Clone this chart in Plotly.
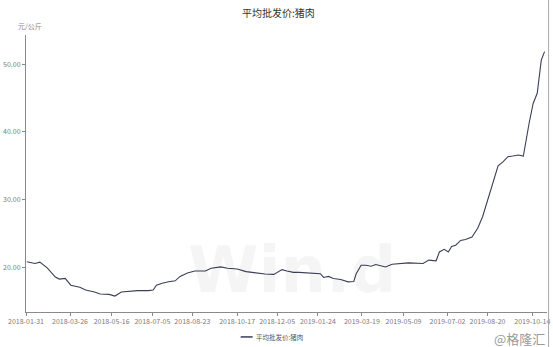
import plotly.graph_objects as go

# ---- data ----
dates = [
    "2018-02-01", "2018-02-11", "2018-02-17", "2018-02-26", "2018-03-08", "2018-03-13", "2018-03-20",
    "2018-03-27", "2018-04-07", "2018-04-14", "2018-04-25", "2018-05-02", "2018-05-13",
    "2018-05-20", "2018-05-28", "2018-06-05", "2018-06-17", "2018-06-30",
    "2018-07-06", "2018-07-10", "2018-07-17", "2018-07-25", "2018-08-02", "2018-08-08", "2018-08-17",
    "2018-08-26", "2018-09-08", "2018-09-15", "2018-09-27", "2018-10-05",
    "2018-10-17", "2018-10-28", "2018-11-08", "2018-11-20", "2018-12-01",
    "2018-12-07", "2018-12-11", "2018-12-17", "2018-12-25", "2019-01-01", "2019-01-13",
    "2019-01-27", "2019-01-31", "2019-02-06", "2019-02-12", "2019-02-21", "2019-03-02", "2019-03-09",
    "2019-03-12", "2019-03-18",
    "2019-03-24", "2019-03-30", "2019-04-05", "2019-04-17", "2019-04-25",
    "2019-05-15", "2019-06-02", "2019-06-09", "2019-06-18", "2019-06-22", "2019-06-28",
    "2019-07-03", "2019-07-07", "2019-07-12", "2019-07-18", "2019-07-24", "2019-08-01", "2019-08-04",
    "2019-08-08", "2019-08-14",
    "2019-08-20", "2019-08-26", "2019-08-31", "2019-09-02", "2019-09-08", "2019-09-14", "2019-09-20",
    "2019-09-27", "2019-10-03", "2019-10-06", "2019-10-10",
    "2019-10-15", "2019-10-20", "2019-10-23", "2019-10-25", "2019-10-29",
]
prices = [
    20.85, 20.6, 20.8, 19.95, 18.6, 18.3, 18.4,
    17.4, 17.1, 16.7, 16.4, 16.1, 16.05,
    15.8, 16.4, 16.5, 16.6, 16.6,
    16.7, 17.4, 17.7, 17.9, 18.05, 18.7, 19.2,
    19.5, 19.5, 19.9, 20.1, 19.9,
    19.8, 19.4, 19.2, 19.05, 19.0,
    19.4, 19.7, 19.5, 19.3, 19.3, 19.2,
    19.1, 18.55, 18.7, 18.4, 18.25, 17.9, 17.95,
    19.1, 20.35,
    20.35, 20.2, 20.45, 20.1, 20.5,
    20.7, 20.6, 21.1, 21.0, 22.3, 22.7,
    22.3, 23.1, 23.3, 24.0, 24.15, 24.5, 25.0,
    25.8, 27.5,
    29.95, 32.4, 34.1, 35.0, 35.6, 36.35, 36.45,
    36.6, 36.45, 38.8, 41.25,
    44.2, 45.7, 48.65, 50.6, 51.85,
]
tick_dates = [
    "2018-01-31", "2018-03-26", "2018-05-16", "2018-07-05", "2018-08-23", "2018-10-17",
    "2018-12-05", "2019-01-24", "2019-03-19", "2019-05-09", "2019-07-02", "2019-08-20",
    "2019-10-14",
]
y_ticks = [20, 30, 40, 50]
y_tick_text = ["20.00", "30.00", "40.00", "50.00"]
series_name = "平均批发价:猪肉"
title_text = "平均批发价:猪肉"
unit_text = "元/公斤"

FONT = "Noto Sans CJK SC"
LINE_COLOR = "#3b3f58"
AXIS_COLOR = "#8a8a8a"
TICK_COLOR = "#7a7a7a"

fig = go.Figure()
fig.add_trace(go.Scatter(
    x=dates, y=prices, mode="lines", name=series_name,
    line=dict(color=LINE_COLOR, width=1.1), showlegend=False,
))

fig.update_layout(
    width=553, height=347,
    margin=dict(l=24, r=3, t=35, b=35),
    paper_bgcolor="white", plot_bgcolor="white",
    font=dict(family=FONT, size=7, color=TICK_COLOR),
    xaxis=dict(
        type="date", range=["2018-01-31", "2019-11-01"],
        tickvals=tick_dates, ticktext=tick_dates,
        showgrid=False, zeroline=False,
        showline=True, linecolor=AXIS_COLOR, linewidth=1,
        ticks="outside", ticklen=3, tickcolor=AXIS_COLOR,
        tickfont=dict(size=7, color=TICK_COLOR),
        ticklabeloverflow="allow",
    ),
    yaxis=dict(
        range=[13.45, 54.3],
        tickvals=y_ticks, ticktext=y_tick_text,
        showgrid=False, zeroline=False,
        showline=True, linecolor=AXIS_COLOR, linewidth=1,
        ticks="outside", ticklen=3, tickcolor=AXIS_COLOR,
        tickfont=dict(size=7, color=TICK_COLOR),
    ),
    showlegend=False,
)

# title
fig.add_annotation(text=title_text, xref="paper", yref="paper", x=0.485, y=1,
                   yshift=23, xanchor="center", yanchor="middle", showarrow=False,
                   font=dict(family=FONT, size=10, color="#333333"))
# unit label
fig.add_annotation(text=unit_text, xref="paper", yref="paper", x=-0.02, y=1,
                   yshift=9, xanchor="left", yanchor="middle", showarrow=False,
                   font=dict(family=FONT, size=7, color="#888888"))
# Wind watermark
fig.add_annotation(text="<b>Win.d</b>", xref="paper", yref="paper", x=0.51, y=0.0,
                   yshift=42, xanchor="center", yanchor="middle", showarrow=False,
                   font=dict(family="DejaVu Sans", size=64, color="rgba(0,0,0,0.04)"))
# legend (manual)
fig.add_shape(type="line", xref="paper", yref="paper", x0=0.412, x1=0.435,
              y0=-0.09, y1=-0.09, line=dict(color=LINE_COLOR, width=1.5))
fig.add_annotation(text=series_name, xref="paper", yref="paper", x=0.438, y=-0.09,
                   xanchor="left", yanchor="middle", showarrow=False,
                   font=dict(family=FONT, size=6.5, color="#555555"))
# source watermark
fig.add_annotation(text="@格隆汇", xref="paper", yref="paper", x=1.0, y=-0.095,
                   xanchor="right", yanchor="middle", showarrow=False,
                   font=dict(family=FONT, size=13, color="#9a9a9a"))
# right border
fig.add_shape(type="line", xref="paper", yref="paper", x0=1.003, x1=1.003, y0=-0.126, y1=1.126,
              line=dict(color="#aaaaaa", width=1))

fig.write_html("out.html")
